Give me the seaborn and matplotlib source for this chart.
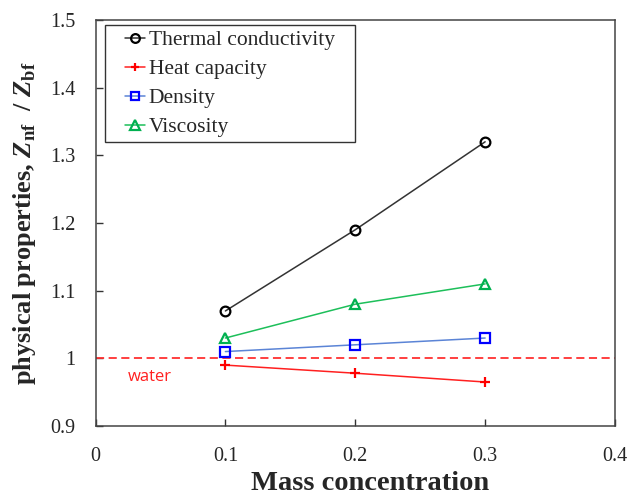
import numpy as np
import pandas as pd
import matplotlib
matplotlib.use("Agg")
import matplotlib.pyplot as plt
from matplotlib.patches import Rectangle
import seaborn as sns

# Mass concentration of nanoparticles
mass_conc = [0.1, 0.2, 0.3]

# Ratios of nanofluid to base-fluid properties
thermal_conductivity = [1.07, 1.19, 1.32]
heat_capacity = [0.99, 0.978, 0.965]
density = [1.01, 1.02, 1.03]
viscosity = [1.03, 1.08, 1.11]

series_names = ["Thermal conductivity", "Heat capacity", "Density", "Viscosity"]
water_ratio = 1.0

x_ticks = [0, 0.1, 0.2, 0.3, 0.4]
x_tick_labels = ["0", "0.1", "0.2", "0.3", "0.4"]
y_ticks = [0.9, 1.0, 1.1, 1.2, 1.3, 1.4, 1.5]
y_tick_labels = ["0.9", "1", "1.1", "1.2", "1.3", "1.4", "1.5"]

sns.set_theme(style="white")
plt.rcParams["font.family"] = ["Liberation Serif", "DejaVu Serif"]
plt.rcParams["mathtext.fontset"] = "custom"
plt.rcParams["mathtext.rm"] = "Liberation Serif"
plt.rcParams["mathtext.bf"] = "Liberation Serif:bold"
plt.rcParams["mathtext.bfit"] = "Liberation Serif:bold:italic"

fig = plt.figure(figsize=(6.3, 4.95), dpi=100)
ax = fig.add_axes([95.5 / 630, 1 - 426 / 495, (615 - 95.5) / 630, (426 - 20) / 495])

styles = {
    "Thermal conductivity": dict(line="#333333", mk="o", mc="black", ms=7),
    "Heat capacity": dict(line="#FF2020", mk="+", mc="#FF0000", ms=7),
    "Density": dict(line="#5B84D6", mk="s", mc="#0000FF", ms=7),
    "Viscosity": dict(line="#1DBF5A", mk="^", mc="#00B050", ms=7.5),
}
values = [thermal_conductivity, heat_capacity, density, viscosity]

for name, vals in zip(series_names, values):
    st = styles[name]
    sns.lineplot(
        x=mass_conc, y=vals, ax=ax, color=st["line"], linewidth=1.1,
        marker=st["mk"], markersize=st["ms"], markerfacecolor="none",
        markeredgecolor=st["mc"], markeredgewidth=1.6, label=name,
    )

ax.axhline(water_ratio, color="#FF3030", linestyle=(0, (4.5, 2.5)), linewidth=1.3, zorder=1)
ax.text(0.025, 0.972, "water", color="#FF2020", fontsize=12,
        family=["Open Sans", "DejaVu Sans"], va="center", ha="left")

ax.set_xlim(0, 0.4)
ax.set_ylim(0.9, 1.5)
ax.set_xticks(x_ticks)
ax.set_xticklabels(x_tick_labels, fontsize=14.5)
ax.set_yticks(y_ticks)
ax.set_yticklabels(y_tick_labels, fontsize=14.5)
ax.tick_params(axis="both", direction="in", length=5, width=1, color="#333333",
               bottom=True, left=True)
ax.tick_params(axis="y", pad=14.5)
ax.tick_params(axis="x", pad=15)

for sp in ax.spines.values():
    sp.set_color("#444444")
    sp.set_linewidth(1.1)

ax.set_xlabel("Mass concentration", fontsize=20.5, fontweight="bold")
ax.xaxis.set_label_coords(0.528, -0.11)
ax.set_ylabel(r"physical properties, $\mathbfit{Z}_{\mathbf{nf}}$  / $\mathbfit{Z}_{\mathbf{bf}}$",
              fontsize=19, fontweight="bold")
ax.yaxis.set_label_coords(-0.11, 0.5)

# Legend: short handles with a roomy frame drawn around the entries
leg_fs = 15.5
leg = ax.legend(loc="upper left", bbox_to_anchor=((125 - 95.5) / 519.5, 1 - 10 / 406),
                fontsize=leg_fs, frameon=False,
                handlelength=0.95, handletextpad=0.15, labelspacing=0.42,
                borderpad=0, borderaxespad=0, markerscale=0.9)
fig.canvas.draw()
bb = leg.get_window_extent()
px_x, px_y = 20, 5
frame = Rectangle((bb.x0 - px_x, bb.y0 - px_y), bb.width + 2 * px_x, bb.height + 2 * px_y,
                  transform=None, fill=True, facecolor="white", edgecolor="#333333",
                  linewidth=1.0, zorder=4)
ax.add_artist(frame)
leg.set_zorder(5)

fig.savefig("out.png", dpi=100)
